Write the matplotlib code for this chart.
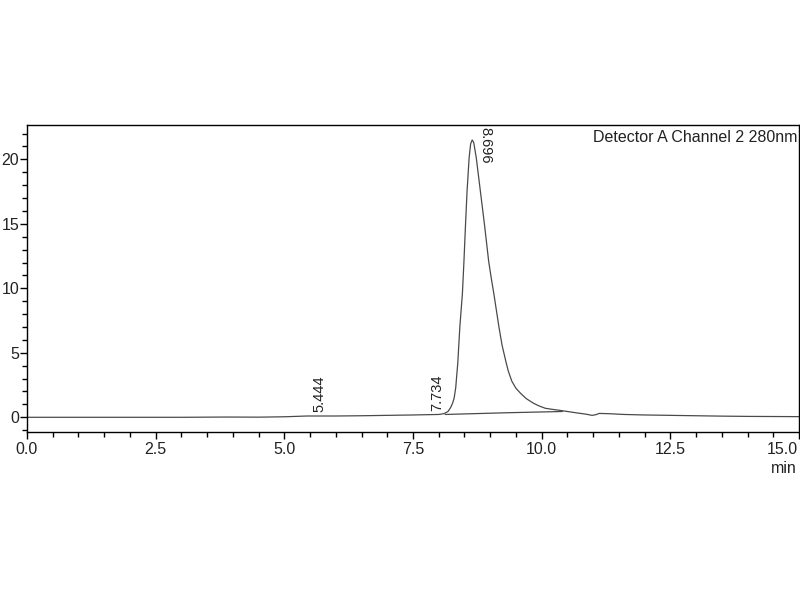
import matplotlib
matplotlib.use("Agg")
import matplotlib.pyplot as plt
from matplotlib.ticker import MultipleLocator, FuncFormatter

# ---- Data ----
time_min = [0.0, 1.0, 2.0, 3.0, 3.9, 4.5, 5.0, 5.444, 6.0, 6.5, 7.0, 7.5, 7.734,
            8.0, 8.10, 8.18, 8.23, 8.27, 8.30, 8.33, 8.37, 8.41, 8.46, 8.49,
            8.52, 8.55, 8.59, 8.62, 8.65, 8.68, 8.73, 8.77, 8.81, 8.85, 8.89,
            8.93, 8.97, 9.02, 9.07, 9.12, 9.17, 9.23, 9.30, 9.35, 9.42, 9.50,
            9.59, 9.70, 9.84, 9.95, 10.07, 10.20, 10.33, 10.5, 10.7, 10.85,
            10.98, 11.05, 11.12, 11.3, 11.6, 12.0, 12.5, 13.0, 13.5, 14.0, 15.0]
signal = [0.00, 0.00, 0.00, 0.00, 0.02, 0.01, 0.04, 0.10, 0.10, 0.12, 0.15,
          0.18, 0.20, 0.22, 0.28, 0.45, 0.75, 1.1, 1.5, 2.3, 4.2, 7.0, 9.6,
          12.1, 14.9, 17.5, 20.1, 21.2, 21.5, 21.3, 20.1, 18.8, 17.5, 16.2,
          14.9, 13.5, 12.1, 10.8, 9.6, 8.3, 7.0, 5.6, 4.4, 3.6, 2.8, 2.25,
          1.86, 1.45, 1.09, 0.88, 0.70, 0.62, 0.55, 0.45, 0.33, 0.25, 0.15,
          0.20, 0.30, 0.28, 0.22, 0.18, 0.15, 0.12, 0.09, 0.07, 0.05]

# integration baseline under the main peak
base_time = [8.13, 9.3, 10.4]
base_signal = [0.22, 0.35, 0.45]

# peak labels (retention time, height)
peak_rt = [5.444, 7.734, 8.696]
peak_ht = [0.10, 0.20, 21.5]

detector_label = "Detector A Channel 2 280nm"

plt.rcParams["font.family"] = ["Liberation Sans", "DejaVu Sans"]
line_col = "#4a4a4a"
txt_col = "#222222"

fig = plt.figure(figsize=(8, 6), dpi=100)
ax = fig.add_axes([27 / 800, 168 / 600, 772 / 800, 307 / 600])

ax.plot(time_min, signal, color=line_col, linewidth=0.9)
ax.plot(base_time, base_signal, color=line_col, linewidth=0.9)

# ---- peak retention time labels ----
for rt, ht in zip(peak_rt, peak_ht):
    if ht > 5:
        ax.annotate(f"{rt:.3f}", xy=(rt, ht), xytext=(8, 9),
                    textcoords="offset points", rotation=-90,
                    ha="center", va="top", fontsize=10.5, color=txt_col)
    else:
        ax.annotate(f"{rt:.3f}", xy=(rt, ht), xytext=(8.5, 3),
                    textcoords="offset points", rotation=90,
                    ha="center", va="bottom", fontsize=10.5, color=txt_col)

ax.text(0.998, 0.985, detector_label, transform=ax.transAxes,
        ha="right", va="top", fontsize=11.5, color=txt_col)

# ---- axes ----
x_max = 15.0
ax.set_xlim(0, x_max)
ax.set_ylim(-1.14, 22.66)
ax.xaxis.set_major_locator(MultipleLocator(2.5))
ax.xaxis.set_minor_locator(MultipleLocator(0.5))
ax.yaxis.set_major_locator(MultipleLocator(5))
ax.yaxis.set_minor_locator(MultipleLocator(1))
# last x label is drawn separately so it can sit flush with the right edge
ax.xaxis.set_major_formatter(
    FuncFormatter(lambda v, _: "" if v >= x_max - 1e-9 else f"{v:.1f}"))

ax.tick_params(which="major", length=5, width=1, direction="out",
               labelsize=11.5, labelcolor=txt_col)
ax.tick_params(which="minor", length=3.5, width=1, direction="out")
ax.tick_params(axis="x", pad=2)
ax.tick_params(axis="y", pad=0.5)
for sp in ax.spines.values():
    sp.set_linewidth(1)

ax.annotate(f"{x_max:.1f}", xy=(1, 0), xycoords="axes fraction",
            xytext=(-0.5, -7), textcoords="offset points",
            ha="right", va="top", fontsize=11.5, color=txt_col)
ax.annotate("min", xy=(1, 0), xycoords="axes fraction",
            xytext=(-1.5, -21), textcoords="offset points",
            ha="right", va="top", fontsize=11.5, color=txt_col)

fig.savefig("out.png", dpi=100)
